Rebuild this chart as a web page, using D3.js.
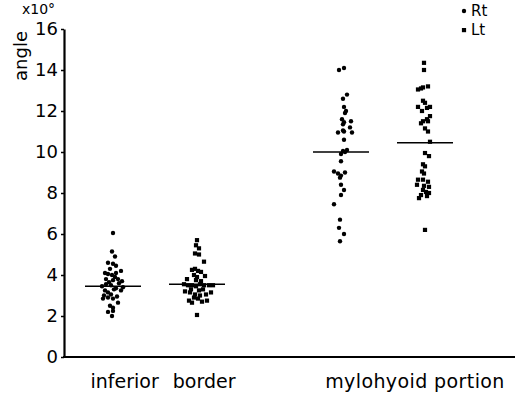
<!DOCTYPE html>
<html>
<head>
<meta charset="utf-8">
<script src="https://cdn.jsdelivr.net/npm/d3@7"></script>
<style>
  body { margin: 0; background: #fff; }
  svg { display: block; }
</style>
</head>
<body>
<div id="chart"></div>
<script>
// groups and sides
const groups = ["inferior border", "mylohyoid portion"];
const sides = ["Rt", "Lt"];
const yTicks = [0, 2, 4, 6, 8, 10, 12, 14, 16];

// each dot: [horizontal spread in px, angle in x10 deg]
const infRt = [[0,6.05],[-1,5.15],[2,4.9],[-5,4.6],[0,4.55],[3,4.45],[-8,4.1],[-5,4.05],[-1,4.0],[3,4.1],
  [8,4.2],[-3,4.3],[-7,3.8],[0,3.75],[5,3.8],[9,3.7],[-2,3.5],[3,3.35],[8,3.25],[-8,3.25],
  [-5,3.15],[-2,3.05],[1,3.3],[-10,2.85],[-5,2.9],[0,2.85],[4,2.95],[-3,2.5],[0,2.4],[-5,2.2],
  [0,2.25],[-1,2.0],[-7,3.55],[6,3.6],[-11,3.45],[10,3.4],[-4,3.65],[2,3.9],[-9,3.0],[5,2.65]];
const infLt = [[0,5.7],[-1,5.45],[2,5.3],[-2,5.05],[2,5.0],[7,4.65],[-5,4.25],[-2,4.3],[1,4.2],[4,4.15],
  [8,3.95],[-3,4.0],[-10,3.8],[-1,3.75],[4,3.7],[-13,3.55],[-9,3.5],[-5,3.5],[-1,3.45],[3,3.55],
  [7,3.5],[12,3.5],[16,3.5],[-12,3.2],[-7,3.15],[-2,3.05],[3,3.0],[9,3.05],[14,3.15],[-8,2.75],
  [-5,2.65],[1,2.85],[5,2.7],[10,2.75],[0,2.05],[-6,3.3],[6,3.3],[0,3.9],[-3,2.9],[2,3.25]];
const mylRt = [[-2,14.0],[3,14.1],[6,12.8],[2,12.6],[3,12.2],[5,12.0],[4,11.9],[1,11.6],[3,11.45],[10,11.5],
  [2,11.35],[9,11.2],[3,11.0],[-3,10.95],[2,11.05],[11,10.95],[3,10.6],[2,10.05],[4,10.0],[0,9.9],
  [0,9.55],[-7,9.05],[-3,8.95],[0,8.85],[4,9.0],[-1,8.75],[0,8.4],[3,8.15],[0,7.9],[-7,7.45],
  [-1,6.7],[-2,6.3],[3,6.0],[-1,5.65],[6,10.1]];
const mylLt = [[-1,14.35],[-1,14.0],[-7,13.05],[-2,13.15],[3,13.2],[-4,13.1],[-2,12.5],[0,12.4],[-7,12.2],[-3,12.0],
  [2,12.15],[5,12.2],[2,11.6],[5,11.75],[-2,11.5],[-4,11.4],[3,11.5],[0,11.15],[3,11.0],[5,10.5],
  [0,9.95],[4,9.8],[-2,9.4],[0,9.3],[-3,9.05],[-1,8.95],[-7,8.65],[-2,8.65],[3,8.55],[-8,8.4],
  [-1,8.35],[4,8.3],[-2,8.15],[1,8.05],[-4,7.9],[4,8.0],[-6,7.75],[2,7.85],[0,6.2]];
// mean bars
const means = [3.45, 3.55, 10.0, 10.45];

const columns = [
  { group: groups[0], side: "Rt", pts: infRt, mean: means[0] },
  { group: groups[0], side: "Lt", pts: infLt, mean: means[1] },
  { group: groups[1], side: "Rt", pts: mylRt, mean: means[2] },
  { group: groups[1], side: "Lt", pts: mylLt, mean: means[3] }
];

const width = 523, height = 398;
const font = "DejaVu Sans";

const svg = d3.select("#chart").append("svg")
  .attr("width", width).attr("height", height);

const y = d3.scaleLinear().domain([0, 16]).range([357, 29]);
const xGroup = d3.scalePoint().domain(groups).range([155, 383]);
const xSide = d3.scalePoint().domain(sides).range([-42, 42]);
const colX = c => xGroup(c.group) + xSide(c.side);

// axes
const yAxis = svg.append("g")
  .attr("transform", "translate(64,0)")
  .call(d3.axisLeft(y).tickValues(yTicks).tickSize(3).tickSizeOuter(0).tickPadding(3));
yAxis.select(".domain").attr("stroke-width", 2.2);
yAxis.selectAll(".tick line").attr("stroke-width", 1.5);
yAxis.selectAll(".tick text")
  .style("font-family", font).style("font-size", "18px").attr("fill", "#000");

svg.append("line")
  .attr("x1", 63).attr("x2", 515)
  .attr("y1", y(0)).attr("y2", y(0))
  .attr("stroke", "#000").attr("stroke-width", 2.2);

// axis titles
svg.append("text")
  .attr("transform", "translate(27,56) rotate(-90)")
  .attr("text-anchor", "middle")
  .style("font-family", font).style("font-size", "18px")
  .text("angle");
svg.append("text")
  .attr("x", 22).attr("y", 14)
  .style("font-family", font).style("font-size", "14px")
  .text("x10°");

// group labels
svg.append("text")
  .attr("x", 163).attr("y", 388)
  .attr("text-anchor", "middle")
  .style("font-family", font).style("font-size", "19px")
  .style("word-spacing", "8px")
  .text("inferior border");
svg.append("text")
  .attr("x", 415).attr("y", 388)
  .attr("text-anchor", "middle")
  .style("font-family", font).style("font-size", "19px")
  .style("letter-spacing", "0.4px")
  .text("mylohyoid portion");

// dots
const cols = svg.selectAll(".col").data(columns).enter().append("g")
  .attr("class", "col");

cols.filter(c => c.side === "Rt").selectAll("circle")
  .data(c => c.pts.map(p => ({ x: colX(c) + p[0], v: p[1] })))
  .enter().append("circle")
  .attr("cx", d => d.x).attr("cy", d => y(d.v)).attr("r", 2.2)
  .attr("fill", "#000");

cols.filter(c => c.side === "Lt").selectAll("rect")
  .data(c => c.pts.map(p => ({ x: colX(c) + p[0], v: p[1] })))
  .enter().append("rect")
  .attr("x", d => d.x - 2.1).attr("y", d => y(d.v) - 2.1)
  .attr("width", 4.2).attr("height", 4.2)
  .attr("fill", "#000");

// mean lines
cols.append("line")
  .attr("x1", c => colX(c) - 28).attr("x2", c => colX(c) + 28)
  .attr("y1", c => y(c.mean)).attr("y2", c => y(c.mean))
  .attr("stroke", "#000").attr("stroke-width", 1.5);

// legend
const legend = svg.append("g").attr("transform", "translate(464,0)");
legend.append("circle").attr("cx", 0).attr("cy", 11).attr("r", 2.2).attr("fill", "#000");
legend.append("rect").attr("x", -2.1).attr("y", 28).attr("width", 4.2).attr("height", 4.2).attr("fill", "#000");
legend.append("text").attr("x", 7).attr("y", 16)
  .style("font-family", font).style("font-size", "15px").text(sides[0]);
legend.append("text").attr("x", 7).attr("y", 35)
  .style("font-family", font).style("font-size", "15px").text(sides[1]);
</script>
</body>
</html>
